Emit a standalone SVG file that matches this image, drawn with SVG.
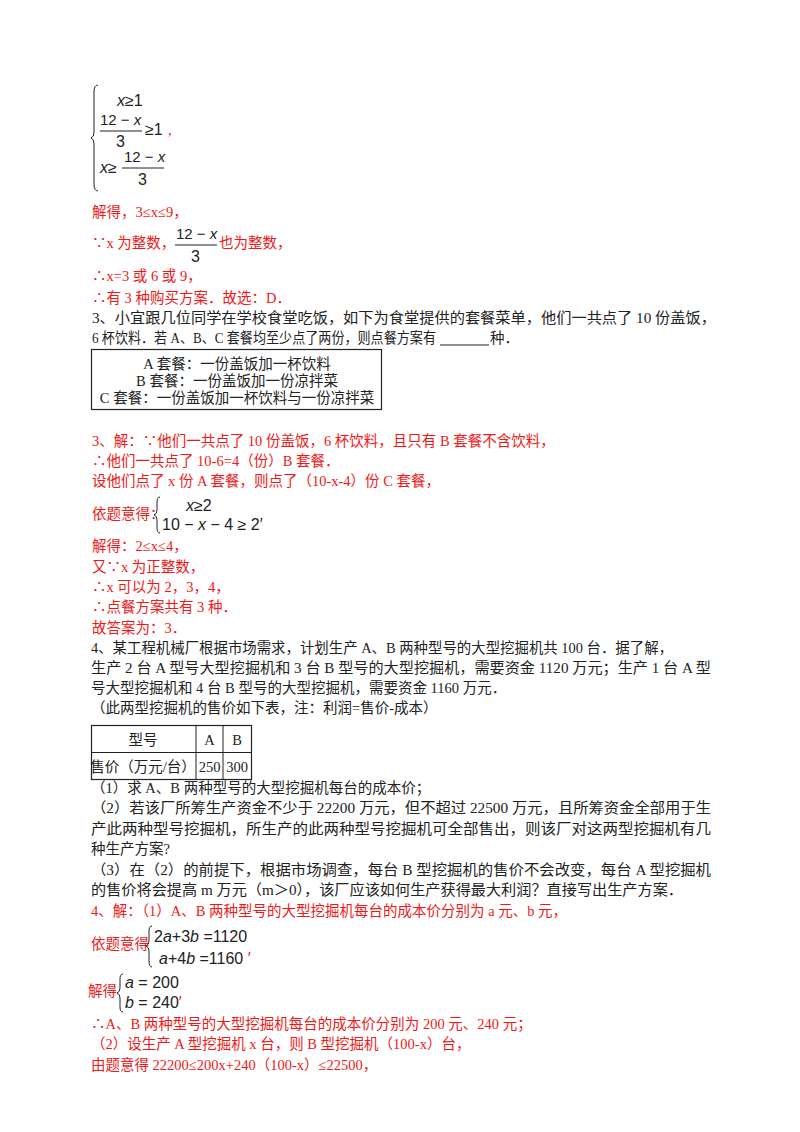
<svg xmlns="http://www.w3.org/2000/svg" width="800" height="1132" viewBox="0 0 800 1132">
<style>
text{font-family:"Liberation Serif","Noto Sans CJK SC",serif;font-size:14.5px;fill:#222}
.r{fill:#f01818}
.m{font-family:"Liberation Sans","Noto Sans CJK SC",sans-serif;font-size:16px;fill:#222}
.f{font-size:15px}
.i{font-style:italic}
.br{fill:none;stroke:#222;stroke-width:1}
.bar{stroke:#222;stroke-width:1}
</style>
<rect width="800" height="1132" fill="#fff"/>
<g id="system1">
<path class="br" d="M98,85 Q94,85 94,92 L94,132 Q94,137 91,138 Q94,139 94,144 L94,184 Q94,191 98,191"/>
<text class="m" x="117" y="106"><tspan class="i">x</tspan>≥1</text>
<text class="m f" x="100" y="125">12 − <tspan class="i">x</tspan></text>
<line class="bar" x1="100" y1="131" x2="142" y2="131"/>
<text class="m" x="116" y="147">3</text>
<text class="m" x="145" y="135">≥1</text>
<text class="r" x="168" y="135">,</text>
<text class="m" x="100" y="173"><tspan class="i">x</tspan>≥</text>
<text class="m f" x="124" y="162">12 − <tspan class="i">x</tspan></text>
<line class="bar" x1="122" y1="168" x2="164" y2="168"/>
<text class="m" x="138" y="185">3</text>
</g>
<g id="sol2">
<text class="r" x="92" y="217">解得，3≤x≤9，</text>
<text class="r" x="92" y="248">∵x 为整数，</text>
<text class="m f" x="176" y="239">12 − <tspan class="i">x</tspan></text>
<line class="bar" x1="175" y1="245" x2="217" y2="245"/>
<text class="m" x="191" y="262">3</text>
<text class="r" x="219" y="248">也为整数，</text>
<text class="r" x="92" y="281">∴x=3 或 6 或 9，</text>
<text class="r" x="92" y="303">∴有 3 种购买方案．故选：D．</text>
</g>
<g id="q3">
<text x="92" y="323" textLength="624" lengthAdjust="spacingAndGlyphs">3、小宜跟几位同学在学校食堂吃饭，如下为食堂提供的套餐菜单，他们一共点了 10 份盖饭，</text>
<text x="92" y="343" textLength="344" lengthAdjust="spacingAndGlyphs">6 杯饮料．若 A、B、C 套餐均至少点了两份，则点餐方案有</text>
<line class="bar" x1="440" y1="345" x2="489" y2="345"/>
<text x="490" y="343">种．</text>
<rect x="91.5" y="349.5" width="290" height="60" fill="none" stroke="#222" stroke-width="1.2"/>
<text x="237" y="369" text-anchor="middle">A 套餐：一份盖饭加一杯饮料</text>
<text x="237" y="386" text-anchor="middle">B 套餐：一份盖饭加一份凉拌菜</text>
<text x="237" y="403" text-anchor="middle">C 套餐：一份盖饭加一杯饮料与一份凉拌菜</text>
</g>
<g id="sol3">
<text class="r" x="92" y="446">3、解：∵他们一共点了 10 份盖饭，6 杯饮料，且只有 B 套餐不含饮料，</text>
<text class="r" x="92" y="466">∴他们一共点了 10-6=4（份）B 套餐．</text>
<text class="r" x="92" y="486">设他们点了 x 份 A 套餐，则点了（10-x-4）份 C 套餐，</text>
<text class="r" x="92" y="519">依题意得：</text>
<path class="br" d="M160,497 Q157,497 157,502 L157,510 Q157,514 154,515 Q157,516 157,520 L157,528 Q157,533 160,533"/>
<text class="m" x="186" y="511"><tspan class="i">x</tspan>≥2</text>
<text class="m" x="162" y="530">10 − <tspan class="i">x</tspan> − 4 ≥ 2′</text>
<text class="r" x="92" y="551">解得：2≤x≤4，</text>
<text class="r" x="92" y="572">又∵x 为正整数，</text>
<text class="r" x="92" y="592">∴x 可以为 2，3，4，</text>
<text class="r" x="92" y="612">∴点餐方案共有 3 种．</text>
<text class="r" x="92" y="633">故答案为：3．</text>
</g>
<g id="q4">
<text x="91" y="653" textLength="582" lengthAdjust="spacingAndGlyphs">4、某工程机械厂根据市场需求，计划生产 A、B 两种型号的大型挖掘机共 100 台．据了解，</text>
<text x="91" y="673" textLength="620" lengthAdjust="spacingAndGlyphs">生产 2 台 A 型号大型挖掘机和 3 台 B 型号的大型挖掘机，需要资金 1120 万元；生产 1 台 A 型</text>
<text x="91" y="693">号大型挖掘机和 4 台 B 型号的大型挖掘机，需要资金 1160 万元．</text>
<text x="91" y="713">（此两型挖掘机的售价如下表，注：利润=售价-成本）</text>
<rect x="91.5" y="725.5" width="160" height="54" fill="none" stroke="#222" stroke-width="1.2"/>
<line class="bar" x1="91.5" y1="752.5" x2="251.5" y2="752.5"/>
<line class="bar" x1="196" y1="725.5" x2="196" y2="779.5"/>
<line class="bar" x1="223" y1="725.5" x2="223" y2="779.5"/>
<text x="143" y="745" text-anchor="middle">型号</text>
<text x="209.5" y="745" text-anchor="middle">A</text>
<text x="237" y="745" text-anchor="middle">B</text>
<text x="143" y="772" text-anchor="middle">售价（万元/台）</text>
<text x="209.5" y="772" text-anchor="middle" font-size="13">250</text>
<text x="237" y="772" text-anchor="middle" font-size="13">300</text>
<text x="91" y="793">（1）求 A、B 两种型号的大型挖掘机每台的成本价；</text>
<text x="91" y="813" textLength="620" lengthAdjust="spacingAndGlyphs">（2）若该厂所筹生产资金不少于 22200 万元，但不超过 22500 万元，且所筹资金全部用于生</text>
<text x="91" y="834" textLength="620" lengthAdjust="spacingAndGlyphs">产此两种型号挖掘机，所生产的此两种型号挖掘机可全部售出，则该厂对这两型挖掘机有几</text>
<text x="91" y="854">种生产方案?</text>
<text x="91" y="875" textLength="620" lengthAdjust="spacingAndGlyphs">（3）在（2）的前提下，根据市场调查，每台 B 型挖掘机的售价不会改变，每台 A 型挖掘机</text>
<text x="91" y="895" textLength="592" lengthAdjust="spacingAndGlyphs">的售价将会提高 m 万元（m＞0），该厂应该如何生产获得最大利润？直接写出生产方案．</text>
</g>
<g id="sol4">
<text class="r" x="91" y="916">4、解：（1）A、B 两种型号的大型挖掘机每台的成本价分别为 a 元、b 元，</text>
<text class="r" x="91" y="949">依题意得</text>
<path class="br" d="M152,926 Q149,926 149,931 L149,941 Q149,945 146,946 Q149,947 149,951 L149,961 Q149,967 152,967"/>
<text class="m" x="154" y="942">2<tspan class="i">a</tspan>+3<tspan class="i">b</tspan> =1120</text>
<text class="m" x="159" y="964"><tspan class="i">a</tspan>+4<tspan class="i">b</tspan> =1160 <tspan style="fill:#f01818">′</tspan></text>
<text class="r" x="88" y="996">解得</text>
<path class="br" d="M123,974 Q120,974 120,979 L120,988 Q120,992 117,993 Q120,994 120,998 L120,1007 Q120,1012 123,1012"/>
<text class="m" x="125" y="988"><tspan class="i">a</tspan> = 200</text>
<text class="m" x="125" y="1008"><tspan class="i">b</tspan> = 240<tspan style="fill:#f01818">′</tspan></text>
<text class="r" x="91" y="1029">∴A、B 两种型号的大型挖掘机每台的成本价分别为 200 元、240 元；</text>
<text class="r" x="91" y="1049">（2）设生产 A 型挖掘机 x 台，则 B 型挖掘机（100-x）台，</text>
<text class="r" x="91" y="1070">由题意得 22200≤200x+240（100-x）≤22500，</text>
</g>
</svg>
